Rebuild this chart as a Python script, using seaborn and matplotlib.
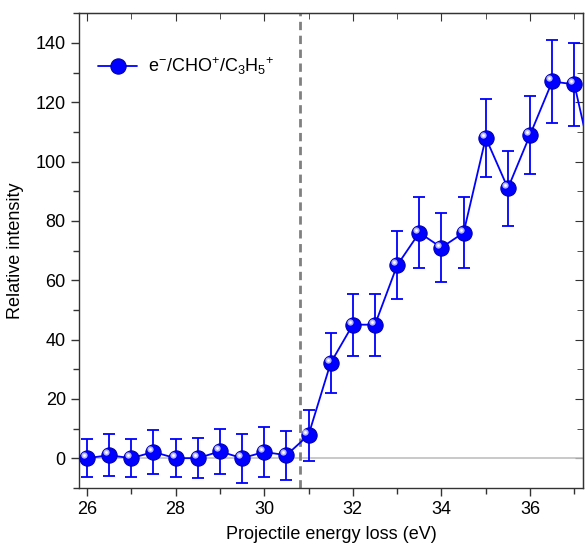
import numpy as np
import pandas as pd
import seaborn as sns
import matplotlib.pyplot as plt
from matplotlib.ticker import MultipleLocator
from matplotlib.transforms import offset_copy

sns.set_style('ticks')
plt.rcParams['font.family'] = ['Liberation Sans', 'DejaVu Sans']
plt.rcParams['mathtext.fontset'] = 'custom'
plt.rcParams['mathtext.rm'] = 'Liberation Sans'
plt.rcParams['mathtext.it'] = 'Liberation Sans'

# datos
energia = [26.0, 26.5, 27.0, 27.5, 28.0, 28.5, 29.0, 29.5, 30.0, 30.5, 31.0,
           31.5, 32.0, 32.5, 33.0, 33.5, 34.0, 34.5, 35.0, 35.5, 36.0, 36.5, 37.0, 37.5]
intensidad = [0.0, 1.0, 0.0, 2.1, 0.0, 0.0, 2.3, 0.0, 2.1, 1.0, 7.8,
              32.1, 45.0, 45.0, 65.0, 76.0, 71.0, 76.0, 108.0, 91.0, 109.0, 127.0, 126.0, 93.0]
error = [6.3, 7.0, 6.5, 7.5, 6.4, 6.8, 7.5, 8.3, 8.3, 8.3, 8.6,
         10.0, 10.5, 10.5, 11.5, 12.0, 11.7, 12.0, 13.2, 12.6, 13.2, 14.0, 14.0, 12.0]
umbral = 30.8
etiqueta = r'e$^{-}$/CHO$^{+}$/C$_{3}$H$_{5}$$^{+}$'

df = pd.DataFrame({'energia': energia, 'intensidad': intensidad, 'error': error})

fig = plt.figure(figsize=(5.85, 5.5), dpi=100)
ax = fig.add_axes([0.135, 0.113, 0.862, 0.863])

ax.axhline(0, color='#c0c0c0', lw=1.2, zorder=1)
ax.axvline(umbral, color='#808080', lw=2, ls=(0, (3, 2)), zorder=2)

ax.errorbar(df['energia'], df['intensidad'], yerr=df['error'], fmt='none',
            ecolor='#0000ff', elinewidth=1.3, capsize=4.5, capthick=1.3, zorder=3)
sns.lineplot(data=df, x='energia', y='intensidad', ax=ax, color='#0000ff', lw=1.3,
             marker='o', markersize=11, markeredgecolor='#0000b0', markeredgewidth=0.8,
             label=etiqueta, zorder=4)
# brillo de las esferas
brillo = offset_copy(ax.transData, fig=fig, x=-2.2, y=2.2, units='points')
ax.plot(df['energia'], df['intensidad'], 'o', ms=4.5, color='#d8d8ff', mec='none',
        alpha=0.85, transform=brillo, zorder=5)
ax.plot(df['energia'], df['intensidad'], 'o', ms=2, color='white', mec='none',
        transform=brillo, zorder=6)

ax.set_xlim(25.82, 37.2)
ax.set_ylim(-10, 150)
ax.xaxis.set_major_locator(MultipleLocator(2))
ax.xaxis.set_minor_locator(MultipleLocator(1))
ax.yaxis.set_major_locator(MultipleLocator(20))
ax.yaxis.set_minor_locator(MultipleLocator(10))
ax.tick_params(which='major', direction='out', length=6, width=1, labelsize=13,
               colors='#333333', labelcolor='black')
ax.tick_params(which='minor', direction='out', length=4, width=1, colors='#333333')
for s in ax.spines.values():
    s.set_visible(True)
    s.set_color('#333333')
    s.set_linewidth(1)

top = ax.secondary_xaxis('top')
top.xaxis.set_major_locator(MultipleLocator(2))
top.xaxis.set_minor_locator(MultipleLocator(1))
top.tick_params(which='major', direction='in', length=6, labeltop=False, colors='#333333')
top.tick_params(which='minor', direction='in', length=4, colors='#333333')
right = ax.secondary_yaxis('right')
right.yaxis.set_major_locator(MultipleLocator(20))
right.yaxis.set_minor_locator(MultipleLocator(10))
right.tick_params(which='major', direction='in', length=6, labelright=False, colors='#333333')
right.tick_params(which='minor', direction='in', length=4, colors='#333333')

ax.set_xlabel('Projectile energy loss (eV)', fontsize=13, labelpad=6, color='black')
ax.set_ylabel('Relative intensity', fontsize=13, labelpad=8, color='black')

leg = ax.legend(loc='upper left', frameon=False, fontsize=13, handlelength=2.2,
                handletextpad=0.6, bbox_to_anchor=(0.005, 0.945), borderaxespad=0.5)
for t in leg.get_texts():
    t.set_color('black')

fig.savefig('out.png', dpi=100)
